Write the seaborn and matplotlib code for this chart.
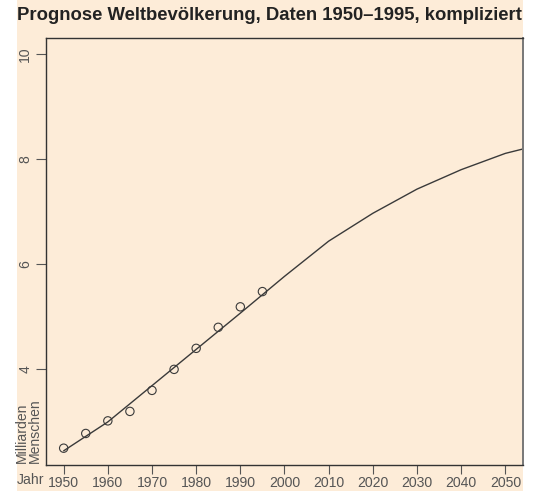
import matplotlib
matplotlib.use("Agg")
import matplotlib.pyplot as plt
from matplotlib.patches import Rectangle
import seaborn as sns
import pandas as pd

# observed data (Milliarden Menschen)
obs_years = [1950, 1955, 1960, 1965, 1970, 1975, 1980, 1985, 1990, 1995]
obs_values = [2.50, 2.78, 3.02, 3.20, 3.60, 4.00, 4.40, 4.80, 5.19, 5.48]

# fitted / projected curve
fit_years = [1950, 1960, 1970, 1980, 1990, 2000, 2010, 2020, 2030, 2040, 2050, 2060]
fit_values = [2.45, 3.00, 3.69, 4.38, 5.07, 5.77, 6.44, 6.97, 7.43, 7.80, 8.11, 8.32]

x_ticks = [1950, 1960, 1970, 1980, 1990, 2000, 2010, 2020, 2030, 2040, 2050]
y_ticks = [4, 6, 8, 10]

title = "Prognose Weltbevölkerung, Daten 1950–1995, kompliziert"
xlabel = "Jahr"
ylabel = "Milliarden\nMenschen"

obs = pd.DataFrame({"Jahr": obs_years, "Wert": obs_values})
fit = pd.DataFrame({"Jahr": fit_years, "Wert": fit_values})

sns.set_style("ticks")
plt.rcParams["font.family"] = ["Liberation Sans", "DejaVu Sans"]

W, H = 539, 491
beige = "#fdecd8"
txt = "#555555"
dark = "#333333"
fs = 10.1

fig = plt.figure(figsize=(W / 100, H / 100), dpi=100, facecolor="white")
fig.patches.append(Rectangle((17 / W, 0), (523 - 17) / W, 1, transform=fig.transFigure,
                             facecolor=beige, edgecolor="none", zorder=-10))

ax = fig.add_axes([46 / W, 1 - 465 / H, (523 - 46) / W, (465 - 38.3) / H])
ax.set_facecolor(beige)

sns.lineplot(data=fit, x="Jahr", y="Wert", ax=ax, color="#3a3a3a", linewidth=1.0)
sns.scatterplot(data=obs, x="Jahr", y="Wert", ax=ax, marker="o", s=36,
                facecolor="none", edgecolor="#3a3a3a", linewidth=0.8, zorder=3)

ax.set_xlim(1946, 2054)
ax.set_ylim(2.18, 10.3)
ax.set_xticks(x_ticks)
ax.set_yticks(y_ticks)
ax.set_xlabel("")
ax.set_ylabel("")

for s in ax.spines.values():
    s.set_visible(True)
    s.set_color(dark)
    s.set_linewidth(1.0)
ax.spines["right"].set_color("#777777")
ax.spines["right"].set_linewidth(1.4)

ax.tick_params(axis="both", direction="out", length=6.5, width=0.8, color="#555555",
               labelsize=fs, labelcolor=txt)
ax.tick_params(axis="x", pad=1.2)
ax.tick_params(axis="y", length=7.5, pad=7.5)
for lab in ax.get_yticklabels():
    lab.set_rotation(90)
    lab.set_va("center")
    lab.set_ha("center")

fig.text(0.5, 1 - 15 / H, title, ha="center", va="center", fontsize=13.3,
         fontweight="bold", color="#222222")
fig.text(17 / W, 1 - 480.5 / H, xlabel, ha="left", va="center", fontsize=fs, color=txt)
fig.text(28.5 / W, 1 - 463 / H, ylabel, ha="center", va="bottom", rotation=90,
         multialignment="left", fontsize=fs, color=txt, linespacing=0.92)

fig.savefig("out.png", dpi=100, facecolor="white")
